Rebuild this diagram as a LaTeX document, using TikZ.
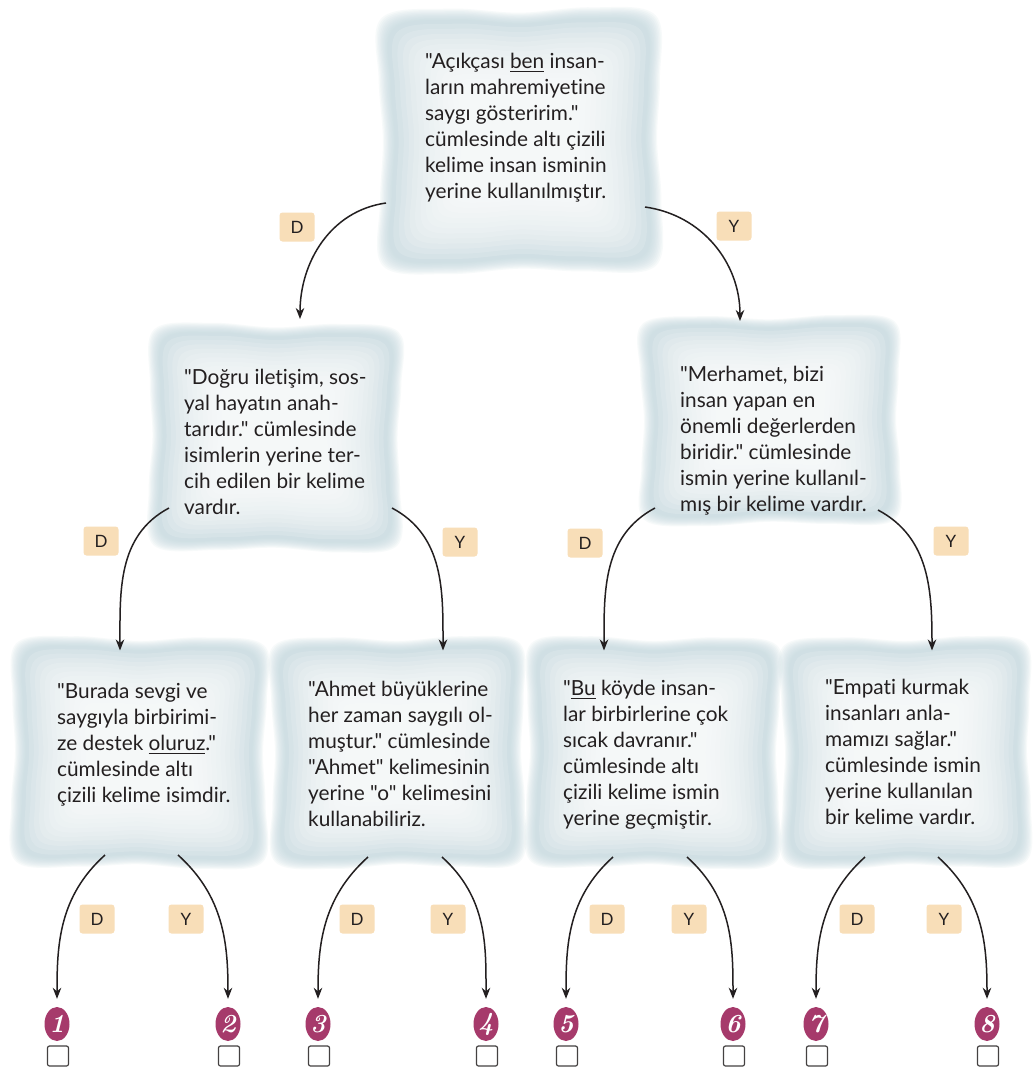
\documentclass[tikz,border=0pt]{standalone}
\usepackage{fontspec}
\newfontfamily\lato[Ligatures=NoCommon]{Lato}
\usetikzlibrary{arrows.meta,calc,shapes.geometric}

\definecolor{washout}{HTML}{C2D8DE}
\definecolor{peach}{HTML}{F8DEB8}
\definecolor{badge}{HTML}{A63A6B}
\definecolor{ink}{HTML}{231F20}

% underlined word
\newsavebox\ulbox
\newcommand\ulw[1]{\sbox\ulbox{#1}\rlap{\rule[-3.8pt]{\wd\ulbox}{1.2pt}}\usebox\ulbox}

% outline of a watercolour patch in unit coordinates
\newcommand\blobpath{plot[smooth cycle, tension=.6] coordinates {
  (-0.97,0.9) (-0.5,0.97) (0,0.94) (0.5,0.98) (0.95,0.92) (0.98,0.45) (0.96,0)
  (0.99,-0.45) (0.95,-0.93) (0.45,-0.97) (0,-0.95) (-0.5,-0.99) (-0.96,-0.93)
  (-0.98,-0.45) (-0.96,0) (-0.99,0.45)}}

% soft watercolour patch behind a question: name, cx, cy, width, height, mirror (1/-1)
\newcommand\washblob[6]{%
  \node[minimum width=#4pt, minimum height=#5pt, inner sep=0pt, outer sep=0pt] (#1) at (#2,#3) {};
  \begin{scope}[shift={(#2,#3)}, xscale=#6*#4/2, yscale=#5/2]
    % tinted rim with a soft outer edge
    \foreach \s in {1.05,1.04,1.03,1.02,1.01,1.0,0.99,0.98,0.97,0.96}{
      \fill[washout, opacity=.12, scale=\s] \blobpath;
    }
    % paler towards the middle
    \foreach \s in {0.93,0.89,0.85,0.81,0.77,0.73,0.69,0.65,0.61,0.57,0.53,0.49,0.45}{
      \fill[white, opacity=.14, scale=\s] \blobpath;
    }
  \end{scope}}

\tikzset{
  txt/.style={anchor=north west, inner sep=0pt, align=left, text=ink,
    font=\lato\fontsize{20.8}{26}\selectfont},
  tag/.style={fill=peach, rounded corners=3pt, minimum width=35pt, minimum height=29pt,
    inner sep=0pt, text=ink, font=\lato\fontsize{17}{17}\selectfont},
  badgenode/.style={ellipse, fill=badge, minimum width=25pt, minimum height=34pt,
    inner sep=0pt, text=white, font=\rmfamily\bfseries\itshape\fontsize{26}{26}\selectfont},
  tick/.style={draw=ink!85, line width=1.2pt, rounded corners=2pt,
    minimum width=21pt, minimum height=20pt, inner sep=0pt},
  arr/.style={draw=ink, line width=1.5pt, -{Stealth[length=11pt,width=8.5pt,inset=3.5pt]}},
}

\begin{document}
\begin{tikzpicture}[x=1pt,y=1pt]
\fill[white] (0,0) rectangle (1036,-1071);
\useasboundingbox (0,0) rectangle (1036,-1071);

% question patches
\washblob{Q0}{520}{-140}{272}{258}{1}
\washblob{QL}{275}{-437}{243}{222}{-1}
\washblob{QR}{770}{-420}{250}{204}{1}
\washblob{A1}{139}{-752}{246}{225}{-1}
\washblob{A2}{398}{-752}{244}{225}{1}
\washblob{A3}{653}{-752}{244}{225}{-1}
\washblob{A4}{906}{-752}{240}{225}{1}

% question texts
\node[txt] (t0) at (425,-53) {"Açıkçası \ulw{ben} insan-\\ların mahremiyetine\\saygı gösteririm."\\cümlesinde altı çizili\\kelime insan isminin\\yerine kullanılmıştır.};
\node[txt] (tL) at (184,-369) {"Doğru iletişim, sos-\\yal hayatın anah-\\tarıdır." cümlesinde\\isimlerin yerine ter-\\cih edilen bir kelime\\vardır.};
\node[txt] (tR) at (680,-366) {"Merhamet, bizi\\insan yapan en\\önemli değerlerden\\biridir." cümlesinde\\ismin yerine kullanıl-\\mış bir kelime vardır.};
\node[txt] (t1) at (57,-683) {"Burada sevgi ve\\saygıyla birbirimi-\\ze destek \ulw{oluruz}."\\cümlesinde altı\\çizili kelime isimdir.};
\node[txt] (t2) at (308,-681) {"Ahmet büyüklerine\\her zaman saygılı ol-\\muştur." cümlesinde\\"Ahmet" kelimesinin\\yerine "o" kelimesini\\kullanabiliriz.};
\node[txt] (t3) at (563,-680) {"\ulw{Bu} köyde insan-\\lar birbirlerine çok\\sıcak davranır."\\cümlesinde altı\\çizili kelime ismin\\yerine geçmiştir.};
\node[txt] (t4) at (825,-679) {"Empati kurmak\\insanları anla-\\mamızı sağlar."\\cümlesinde ismin\\yerine kullanılan\\bir kelime vardır.};

% D / Y tags
\node[tag] (d0) at (297,-227) {D};
\node[tag] (y0) at (734,-226) {Y};
\node[tag] (dL) at (101,-541) {D};
\node[tag] (yL) at (460,-542) {Y};
\node[tag] (dR) at (585,-543) {D};
\node[tag] (yR) at (951,-541) {Y};
\node[tag] (d1) at (97,-919) {D};
\node[tag] (y1) at (186,-919) {Y};
\node[tag] (d2) at (357,-919) {D};
\node[tag] (y2) at (448,-919) {Y};
\node[tag] (d3) at (607,-919) {D};
\node[tag] (y3) at (689,-919) {Y};
\node[tag] (d4) at (857,-919) {D};
\node[tag] (y4) at (944,-919) {Y};

% numbered outcomes with answer boxes
\foreach \n/\x in {1/57,2/228,3/318,4/486,5/566,6/733,7/816,8/987}{
  \node[badgenode] (n\n) at (\x,-1024) {\n};
  \node[tick] (c\n) at (\x+1,-1056) {};
}

% branches
\draw[arr] ([shift={(-134,-63)}]Q0.center) to[out=188,in=90] ([shift={(25,7)}]QL.north);
\draw[arr] ([shift={(125,-67)}]Q0.center) to[out=-8,in=90] ([shift={(-30,-3)}]QR.north);

\draw[arr] ([shift={(-106,-71)}]QL.center) to[out=208,in=90] ([shift={(-19,-11)}]A1.north);
\draw[arr] ([shift={(117,-71)}]QL.center) to[out=-28,in=90] ([shift={(45,-11)}]A2.north);
\draw[arr] ([shift={(-115,-88)}]QR.center) to[out=208,in=90] ([shift={(-49,-11)}]A3.north);
\draw[arr] ([shift={(108,-90)}]QR.center) to[out=-28,in=90] ([shift={(26,-11)}]A4.north);

\draw[arr, shorten >=8pt] ([shift={(-34,-103)}]A1.center) to[out=222,in=90] (n1.north);
\draw[arr, shorten >=8pt] ([shift={(39,-103)}]A1.center) to[out=-42,in=90] (n2.north);
\draw[arr, shorten >=8pt] ([shift={(-30,-105)}]A2.center) to[out=222,in=90] (n3.north);
\draw[arr, shorten >=8pt] ([shift={(44,-105)}]A2.center) to[out=-42,in=90] (n4.north);
\draw[arr, shorten >=8pt] ([shift={(-40,-105)}]A3.center) to[out=222,in=90] (n5.north);
\draw[arr, shorten >=8pt] ([shift={(34,-105)}]A3.center) to[out=-42,in=90] (n6.north);
\draw[arr, shorten >=8pt] ([shift={(-41,-105)}]A4.center) to[out=222,in=90] (n7.north);
\draw[arr, shorten >=8pt] ([shift={(32,-105)}]A4.center) to[out=-42,in=90] (n8.north);
\end{tikzpicture}
\end{document}
